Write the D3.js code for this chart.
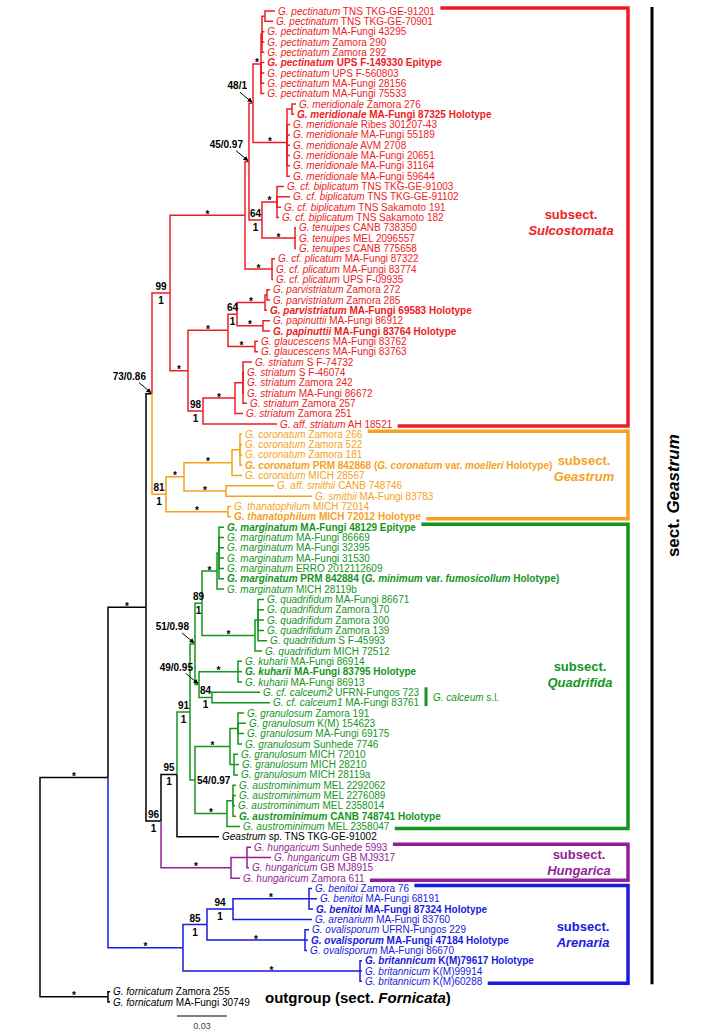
<!DOCTYPE html>
<html><head><meta charset="utf-8">
<script src="https://cdn.jsdelivr.net/npm/d3@7"></script>
<style>
html,body{margin:0;padding:0;background:#fff;}
svg{display:block;font-family:"Liberation Sans",Arial,Helvetica,sans-serif;}
</style></head><body>
<svg id="chart" width="709" height="1032"></svg>
<script>
// ---------- DATA ----------
const taxa = [
 "G. pectinatum","G. pectinatum","G. pectinatum","G. pectinatum","G. pectinatum","G. pectinatum","G. pectinatum","G. pectinatum","G. pectinatum",
 "G. meridionale","G. meridionale","G. meridionale","G. meridionale","G. meridionale","G. meridionale","G. meridionale","G. meridionale",
 "G. cf. biplicatum","G. cf. biplicatum","G. cf. biplicatum","G. cf. biplicatum",
 "G. tenuipes","G. tenuipes","G. tenuipes",
 "G. cf. plicatum","G. cf. plicatum","G. cf. plicatum",
 "G. parvistriatum","G. parvistriatum","G. parvistriatum",
 "G. papinuttii","G. papinuttii",
 "G. glaucescens","G. glaucescens",
 "G. striatum","G. striatum","G. striatum","G. striatum","G. striatum","G. striatum",
 "G. aff. striatum",
 "G. coronatum","G. coronatum","G. coronatum","G. coronatum","G. coronatum",
 "G. aff. smithii","G. smithii",
 "G. thanatophilum","G. thanatophilum",
 "G. marginatum","G. marginatum","G. marginatum","G. marginatum","G. marginatum","G. marginatum","G. marginatum",
 "G. quadrifidum","G. quadrifidum","G. quadrifidum","G. quadrifidum","G. quadrifidum","G. quadrifidum",
 "G. kuharii","G. kuharii","G. kuharii",
 "G. cf. calceum2","G. cf. calceum1",
 "G. granulosum","G. granulosum","G. granulosum","G. granulosum","G. granulosum","G. granulosum","G. granulosum",
 "G. austrominimum","G. austrominimum","G. austrominimum","G. austrominimum","G. austrominimum",
 "Geastrum",
 "G. hungaricum","G. hungaricum","G. hungaricum","G. hungaricum",
 "G. benitoi","G. benitoi","G. benitoi",
 "G. arenarium",
 "G. ovalisporum","G. ovalisporum","G. ovalisporum",
 "G. britannicum","G. britannicum","G. britannicum",
 "G. fornicatum","G. fornicatum"
];
const vouchers = [
 "TNS TKG-GE-91201","TNS TKG-GE-70901","MA-Fungi 43295","Zamora 290","Zamora 292","UPS F-149330 Epitype","UPS F-560803","MA-Fungi 28156","MA-Fungi 75533",
 "Zamora 276","MA-Fungi 87325 Holotype","Ribes 301207-43","MA-Fungi 55189","AVM 2708","MA-Fungi 20651","MA-Fungi 31164","MA-Fungi 59644",
 "TNS TKG-GE-91003","TNS TKG-GE-91102","TNS Sakamoto 191","TNS Sakamoto 182",
 "CANB 738350","MEL 2096557","CANB 775658",
 "MA-Fungi 87322","MA-Fungi 83774","UPS F-09935",
 "Zamora 272","Zamora 285","MA-Fungi 69583 Holotype",
 "MA-Fungi 86912","MA-Fungi 83764 Holotype",
 "MA-Fungi 83762","MA-Fungi 83763",
 "S F-74732","S F-46074","Zamora 242","MA-Fungi 86672","Zamora 257","Zamora 251",
 "AH 18521",
 "Zamora 266","Zamora 522","Zamora 181","PRM 842868 (_G. coronatum_ var. _moelleri_ Holotype)","MICH 28567",
 "CANB 748746","MA-Fungi 83783",
 "MICH 72014","MICH 72012 Holotype",
 "MA-Fungi 48129 Epitype","MA-Fungi 86669","MA-Fungi 32395","MA-Fungi 31530","ERRO 2012112609","PRM 842884 (_G. minimum_ var. _fumosicollum_ Holotype)","MICH 28119b",
 "MA-Fungi 86671","Zamora 170","Zamora 300","Zamora 139","S F-45993","MICH 72512",
 "MA-Fungi 86914","MA-Fungi 83795 Holotype","MA-Fungi 86913",
 "UFRN-Fungos 723","MA-Fungi 83761",
 "Zamora 191","K(M) 154623","MA-Fungi 69175","Sunhede 7746","MICH 72010","MICH 28210","MICH 28119a",
 "MEL 2292062","MEL 2276089","MEL 2358014","CANB 748741 Holotype","MEL 2358047",
 "sp. TNS TKG-GE-91002",
 "Sunhede 5993","GB MJ9317","GB MJ8915","Zamora 611",
 "Zamora 76","MA-Fungi 68191","MA-Fungi 87324 Holotype",
 "MA-Fungi 83760",
 "UFRN-Fungos 229","MA-Fungi 47184 Holotype","MA-Fungi 86670",
 "K(M)79617 Holotype","K(M)99914","K(M)60288",
 "Zamora 255","MA-Fungi 30749"
];
const typeSpecimens = ["L6","L11","L30","L32","L45","L50","L51","L56","L65","L79","L88","L91","L93"];

// topology with branch lengths (substitutions/site)
const treeNewick =
 "(((((((((((" +
 "(((L1:0.006,L2:0.0048)Pe12:0.0018,L3:0.0014,L4:0.0014,L5:0.0014)PeA:0.0006,L6:0.002,L7:0.002,L8:0.002,L9:0.002)Pe:0.0048," +
 "((L10:0.0024,L11:0.0012)Me2:0.003,L12:0.0018,L13:0.0018,L14:0.0018,L15:0.0018,L16:0.0018,L17:0.0018)Me:0.0204" +
 ")P:0.0024," +
 "((L18:0.0042,L19:0.0078,L20:0.0024,L21:0.0012)Bi:0.009,(L22:0.0006,L23:0.0006,L24:0.0006)Te:0.0198)S:0.0078" +
 ")Q:0.0024," +
 "(L25:0.0018,L26:0.0006,L27:0.0006)Pl:0.0162" +
 ")R:0.045," +
 "((" +
 "(((L28:0.0018,L29:0.0018)Pa2:0.0012,L30:0.0012)Pa:0.0168,(L31:0.0042,L32:0.0042)Pp:0.0156)X:0.0054," +
 "(L33:0.0018,L34:0.0018)Gl:0.0162" +
 ")U:0.024," +
 "(((L35:0.0054,L36:0.0006,L37:0.0006,L38:0.0006,L39:0.0024)St5:0.0048,L40:0.0048)St:0.0192,L41:0.0444)V:0.009" +
 ")T:0.0108" +
 ")W:0.0108," +
 "((" +
 "((L42:0.0012,L43:0.0012,L44:0.0012,L45:0.0012)Co4:0.0048,L46:0.006)Co:0.0288," +
 "(L47:0.0288,L48:0.0516)Sm:0.0252" +
 ")G2:0.0108," +
 "(L49:0.0018,L50:0.0018)Th:0.0372" +
 ")G1:0.0084" +
 ")B:0.0036," +
 "(((((" +
 "((L51:0.003,L52:0.003,L53:0.003,L54:0.003,L55:0.003,L56:0.003)Ma6:0.0012,L57:0.0042)Ma:0.009," +
 "((L58:0.0036,L59:0.0036,L60:0.0036,L61:0.0036,L62:0.0054)Qu5:0.0018,L63:0.0042)Qu:0.0318" +
 ")M1:0.0042," +
 "((L64:0.0024,L65:0.0024,L66:0.0024)Ku:0.0234,(L67:0.0288,L68:0.0348)N84:0.0078)N49:0.0024" +
 ")N51:0.003," +
 "(((L69:0.0036,L70:0.0048,L71:0.0036,L72:0.0024)GrA:0.0048,(L73:0.0024,L74:0.003,L75:0.0024)GrB:0.0024)Gr:0.021," +
 "((L76:0.0018,L77:0.0018,L78:0.0012,L79:0.0018)Au4:0.0036,L80:0.0078)Au:0.0192)N54:0.003" +
 ")Q91:0.0078," +
 "L81:0.0252" +
 ")N95:0.0096," +
 "((L82:0.0024,L83:0.0144,L84:0.0012)Hu3:0.0096,L85:0.0054)Hu:0.042" +
 ")N96:0.009" +
 ")A:0.0228," +
 "(((" +
 "(L86:0.0018,L87:0.0048,L88:0.0024)Be:0.0456,L89:0.0474" +
 ")N94:0.0156," +
 "(L90:0.0024,L91:0.0018,L92:0.0012)Ov:0.0588" +
 ")N85:0.0144," +
 "(L93:0.0012,L94:0.0012,L95:0.0012)Br:0.1062" +
 ")Ar:0.045" +
 ")I:0.0408," +
 "(L96:0.0012,L97:0.0012)F:0.0408" +
 ")root;";

const cladeNames  = ["W","G1","Q91","Hu","Ar"];
const cladeTitles = ["Sulcostomata","Geastrum","Quadrifida","Hungarica","Arenaria"];
const cladeColors = ["#ed1c24","#f5a21d","#14961e","#931f98","#1a1ae0"];

const pairSupport = [["W","99","1"],["S","64","1"],["X","64","1"],["V","98","1"],["G1","81","1"],
  ["M1","89","1"],["N84","84","1"],["Q91","91","1"],["N95","95","1"],["N96","96","1"],["N94","94","1"],["N85","85","1"]];
const arrowSupport = [["P","48/1"],["Q","45/0.97"],["B","73/0.86"],["N51","51/0.98"],["N49","49/0.95"]];
const sideSupport = [["N54","54/0.97"]];
const starNodes = ["Pe","Me","R","Bi","Te","Pl","T","U","Pa","Pp","Gl","St","G2","Co","Sm","Th","Ma","Qu",
  "Ku","Gr","Au","Hu","Be","Ov","Ar","Br","A","I","F"];
const scaleBarValue = 0.03;

// ---------- PARSE ----------
function parseNewick(s){
  let i=0;
  function node(){
    const n={children:[]};
    if(s[i]==='('){ i++; n.children.push(node()); while(s[i]===','){ i++; n.children.push(node()); } i++; }
    let name=''; while(i<s.length && !',():;'.includes(s[i])) name+=s[i++];
    n.name=name.trim();
    if(s[i]===':'){ i++; let num=''; while(i<s.length && !',();'.includes(s[i])) num+=s[i++]; n.length=+num; }
    return n;
  }
  return node();
}

const svg = d3.select("#chart");
const xScale = d3.scaleLinear().domain([0, scaleBarValue]).range([40, 90]);
const yScale = d3.scaleLinear().domain([0, taxa.length-1]).range([11, 1002]);

const root = d3.hierarchy(parseNewick(treeNewick), d => d.children && d.children.length ? d.children : null);
root.eachBefore(d => { d.dist = d.parent ? d.parent.dist + (d.data.length||0) : 0; d.px = xScale(d.dist); });
const leaves = root.leaves();
leaves.forEach((d,i) => { d.idx = +d.data.name.slice(1)-1; d.py = yScale(i); });
root.eachAfter(d => { if(d.children) d.py = (d.children[0].py + d.children[d.children.length-1].py)/2; });
const cladeColorMap = new Map(cladeNames.map((n,i)=>[n,cladeColors[i]]));
root.eachBefore(d => { d.color = cladeColorMap.get(d.data.name) || (d.parent ? d.parent.color : "#000"); });
const byName = new Map(root.descendants().map(d=>[d.data.name,d]));

// ---------- EDGES ----------
svg.append("g").selectAll("path").data(root.descendants().filter(d=>d.parent)).join("path")
  .attr("d", d => `M${d.parent.px},${d.parent.py}V${d.py}H${d.px}`)
  .attr("fill","none").attr("stroke", d=>d.color).attr("stroke-width",1.5);

// ---------- LEAF LABELS ----------
const typeSet = new Set(typeSpecimens);
const labelG = svg.append("g").attr("font-size",10);
const labelNodes = {};
leaves.forEach(d => {
  const i = d.idx;
  const t = labelG.append("text").attr("x", d.px+3).attr("y", d.py+3.6)
    .attr("fill", d.color).attr("font-weight", typeSet.has(d.data.name) ? "bold" : "normal");
  t.append("tspan").attr("font-style","italic").text(taxa[i]);
  const parts = (" " + vouchers[i]).split("_");
  parts.forEach((p,k) => { if(p.length) t.append("tspan").attr("font-style", k%2 ? "italic":"normal").text(p); });
  labelNodes[d.data.name] = t;
});

// ---------- SUPPORT ----------
const supG = svg.append("g").attr("font-size",10).attr("font-weight","bold").attr("fill","#000");
pairSupport.forEach(([n,bs,pp]) => {
  const d = byName.get(n); const mx = (d.parent.px + d.px)/2;
  supG.append("text").attr("x",mx).attr("y",d.py-3).attr("text-anchor","middle").text(bs);
  supG.append("text").attr("x",mx).attr("y",d.py+11).attr("text-anchor","middle").text(pp);
});
starNodes.forEach(n => {
  const d = byName.get(n); const mx = (d.parent.px + d.px)/2;
  supG.append("text").attr("x",mx).attr("y",d.py+2.5).attr("text-anchor","middle").text("*");
});
svg.append("defs").append("marker").attr("id","ah").attr("viewBox","0 0 10 10")
  .attr("refX",9).attr("refY",5).attr("markerWidth",5).attr("markerHeight",5).attr("orient","auto")
  .append("path").attr("d","M0,0L10,5L0,10z").attr("fill","#000");
arrowSupport.forEach(([n,lab]) => {
  const d = byName.get(n);
  supG.append("text").attr("x",d.px-6).attr("y",d.py-14).attr("text-anchor","end").text(lab);
  svg.append("line").attr("x1",d.px-13).attr("y1",d.py-11).attr("x2",d.px-1).attr("y2",d.py-1)
    .attr("stroke","#000").attr("stroke-width",1).attr("marker-end","url(#ah)");
});
sideSupport.forEach(([n,lab]) => {
  const d = byName.get(n);
  supG.append("text").attr("x",d.px+2).attr("y",d.py+4).text(lab);
});

// ---------- BRACKETS ----------
const xRight = 628;
const titleX = [571, 584, 580, 579, 583];
const titleDy = [5, -7, -2, 0, 0];
const brG = svg.append("g");
let sectTop = null, sectBot = null;
cladeNames.forEach((n,i) => {
  const c = byName.get(n); const ls = c.leaves();
  const f = ls[0], l = ls[ls.length-1];
  const fb = labelNodes[f.data.name].node().getBBox(), lb = labelNodes[l.data.name].node().getBBox();
  const topY = f.py-3, botY = l.py+2;
  if(sectTop===null) sectTop = topY; sectBot = botY;
  brG.append("path").attr("d",`M${fb.x+fb.width+5},${topY}H${xRight}V${botY}H${lb.x+lb.width+5}`)
    .attr("fill","none").attr("stroke",cladeColors[i]).attr("stroke-width",3.5);
  const mid = (topY+botY)/2 + titleDy[i];
  const tg = brG.append("g").attr("fill",cladeColors[i]).attr("font-weight","bold").attr("font-size",13).attr("text-anchor","middle");
  tg.append("text").attr("x",titleX[i]).attr("y",mid-3).text("subsect.");
  tg.append("text").attr("x",titleX[i]).attr("y",mid+13).attr("font-style","italic").text(cladeTitles[i]);
});
svg.append("line").attr("x1",652).attr("x2",652).attr("y1",sectTop-1).attr("y2",sectBot+1)
  .attr("stroke","#000").attr("stroke-width",3);
const st = svg.append("text").attr("transform",`translate(679,${(sectTop+sectBot)/2}) rotate(-90)`)
  .attr("text-anchor","middle").attr("font-weight","bold").attr("font-size",17);
st.append("tspan").text("sect. ");
st.append("tspan").attr("font-style","italic").text("Geastrum");

// calceum s.l. annotation
{
  const a = byName.get("L67"), b = byName.get("L68");
  const g = cladeColors[2];
  svg.append("line").attr("x1",426).attr("x2",426).attr("y1",a.py-5).attr("y2",b.py+3.5).attr("stroke",g).attr("stroke-width",3);
  const t = svg.append("text").attr("x",433).attr("y",(a.py+b.py)/2+4).attr("font-size",10).attr("fill",g);
  t.append("tspan").attr("font-style","italic").text("G. calceum");
  t.append("tspan").text(" s.l.");
}
// outgroup label
{
  const f = byName.get("F");
  const t = svg.append("text").attr("x",265).attr("y",f.py+6.5).attr("font-size",15).attr("font-weight","bold");
  t.append("tspan").text("outgroup (sect. ");
  t.append("tspan").attr("font-style","italic").text("Fornicata");
  t.append("tspan").text(")");
}
// scale bar
{
  const x0 = 177, len = xScale(scaleBarValue)-xScale(0);
  svg.append("line").attr("x1",x0).attr("x2",x0+len).attr("y1",1016).attr("y2",1016).attr("stroke","#000").attr("stroke-width",1.2);
  svg.append("text").attr("x",x0+len/2).attr("y",1029).attr("text-anchor","middle").attr("font-size",9).attr("fill","#444").text(String(scaleBarValue));
}
</script>
</body></html>
